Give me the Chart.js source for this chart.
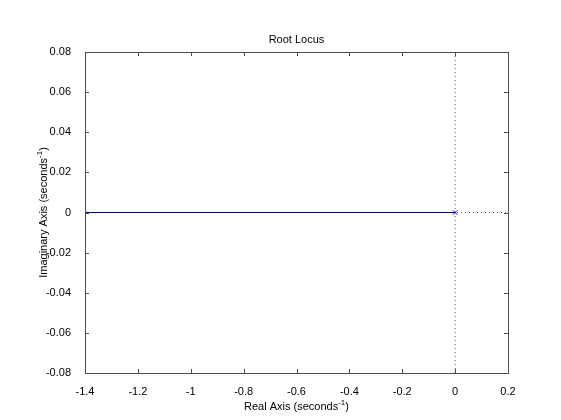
<!DOCTYPE html>
<html>
<head>
<meta charset="utf-8">
<script src="https://cdn.jsdelivr.net/npm/chart.js@4.4.1/dist/chart.umd.min.js"></script>
<style>
  html, body { margin: 0; padding: 0; background: #fff; }
  #wrap { width: 561px; height: 420px; }
</style>
</head>
<body>
<div id="wrap"><canvas id="rl" width="561" height="420"></canvas></div>
<script>
// root locus branch (single real pole at origin, goes left)
const locusReal = [-1.4, 0];
const locusImag = [0, 0];
// open loop poles
const poleReal = [0];
const poleImag = [0];
// dotted reference axes through the origin
const hRefReal = [-1.4, 0.2];
const hRefImag = [0, 0];
const vRefReal = [0, 0];
const vRefImag = [-0.08, 0.08];
// tick labels
const xTicks = [-1.4, -1.2, -1, -0.8, -0.6, -0.4, -0.2, 0, 0.2];
const yTicks = [-0.08, -0.06, -0.04, -0.02, 0, 0.02, 0.04, 0.06, 0.08];

const toPts = (xs, ys) => xs.map((x, i) => ({ x: x, y: ys[i] }));
const FONT = "Liberation Sans, Arial, sans-serif";

// matlab-ish box with inward ticks + titles
const boxPlugin = {
  id: "box",
  afterDraw(chart) {
    const { ctx, chartArea: a, scales } = chart;
    ctx.save();
    ctx.strokeStyle = "#4d4d4d";
    ctx.lineWidth = 1;
    ctx.strokeRect(a.left + 0.5, a.top + 0.5, a.right - a.left, a.bottom - a.top);
    ctx.beginPath();
    xTicks.forEach(v => {
      const px = Math.round(scales.x.getPixelForValue(v)) + 0.5;
      ctx.moveTo(px, a.bottom); ctx.lineTo(px, a.bottom - 4);
      ctx.moveTo(px, a.top); ctx.lineTo(px, a.top + 4);
    });
    yTicks.forEach(v => {
      const py = Math.round(scales.y.getPixelForValue(v)) + 0.5;
      ctx.moveTo(a.left, py); ctx.lineTo(a.left + 4, py);
      ctx.moveTo(a.right, py); ctx.lineTo(a.right - 4, py);
    });
    ctx.stroke();

    ctx.fillStyle = "#000";
    ctx.textBaseline = "alphabetic";
    // title
    ctx.font = "11px " + FONT;
    ctx.textAlign = "center";
    ctx.fillText("Root Locus", (a.left + a.right) / 2, 43);

    // axis label with superscript
    const drawSup = (base, sup, tail, cx, cy) => {
      ctx.font = "11px " + FONT;
      const w1 = ctx.measureText(base).width;
      const w3 = ctx.measureText(tail).width;
      ctx.font = "8px " + FONT;
      const w2 = ctx.measureText(sup).width;
      let x = cx - (w1 + w2 + w3) / 2;
      ctx.textAlign = "left";
      ctx.font = "11px " + FONT;
      ctx.fillText(base, x, cy); x += w1;
      ctx.font = "8px " + FONT;
      ctx.fillText(sup, x, cy - 5); x += w2;
      ctx.font = "11px " + FONT;
      ctx.fillText(tail, x, cy);
    };
    drawSup("Real Axis (seconds", "-1", ")", (a.left + a.right) / 2, 410);
    ctx.save();
    ctx.translate(47, (a.top + a.bottom) / 2);
    ctx.rotate(-Math.PI / 2);
    drawSup("Imaginary Axis (seconds", "-1", ")", 0, 0);
    ctx.restore();
    ctx.restore();
  }
};

const fmt = v => String(Number(v.toFixed(2)));

new Chart(document.getElementById("rl"), {
  type: "scatter",
  data: {
    datasets: [
      {
        data: toPts(locusReal, locusImag),
        showLine: true, borderColor: "#000080", borderWidth: 1.2,
        pointRadius: 0, order: 2
      },
      {
        data: toPts(poleReal, poleImag),
        showLine: false, pointStyle: "crossRot", pointRadius: 3,
        borderColor: "#0000ff", borderWidth: 1, order: 1
      },
      {
        data: toPts(hRefReal, hRefImag),
        showLine: true, borderColor: "#555", borderWidth: 1, borderDash: [1, 3],
        pointRadius: 0, order: 5
      },
      {
        data: toPts(vRefReal, vRefImag),
        showLine: true, borderColor: "#555", borderWidth: 1, borderDash: [1, 3],
        pointRadius: 0, order: 5
      }
    ]
  },
  options: {
    responsive: false,
    animation: false,
    layout: { padding: { top: 52, right: 53, left: 0, bottom: 0 } },
    plugins: { legend: { display: false }, tooltip: { enabled: false }, title: { display: false } },
    scales: {
      x: {
        type: "linear", min: -1.4, max: 0.2,
        afterBuildTicks: s => { s.ticks = xTicks.map(v => ({ value: v })); },
        afterFit: s => { s.height = 47; },
        grid: { display: false }, border: { display: false },
        ticks: { callback: fmt, color: "#000", padding: 4, maxRotation: 0, font: { family: FONT, size: 11 } }
      },
      y: {
        type: "linear", min: -0.08, max: 0.08,
        afterBuildTicks: s => { s.ticks = yTicks.map(v => ({ value: v })); },
        afterFit: s => { s.width = 85; },
        grid: { display: false }, border: { display: false },
        ticks: { callback: fmt, color: "#000", padding: 6, font: { family: FONT, size: 11 } }
      }
    }
  },
  plugins: [boxPlugin]
});
</script>
</body>
</html>
